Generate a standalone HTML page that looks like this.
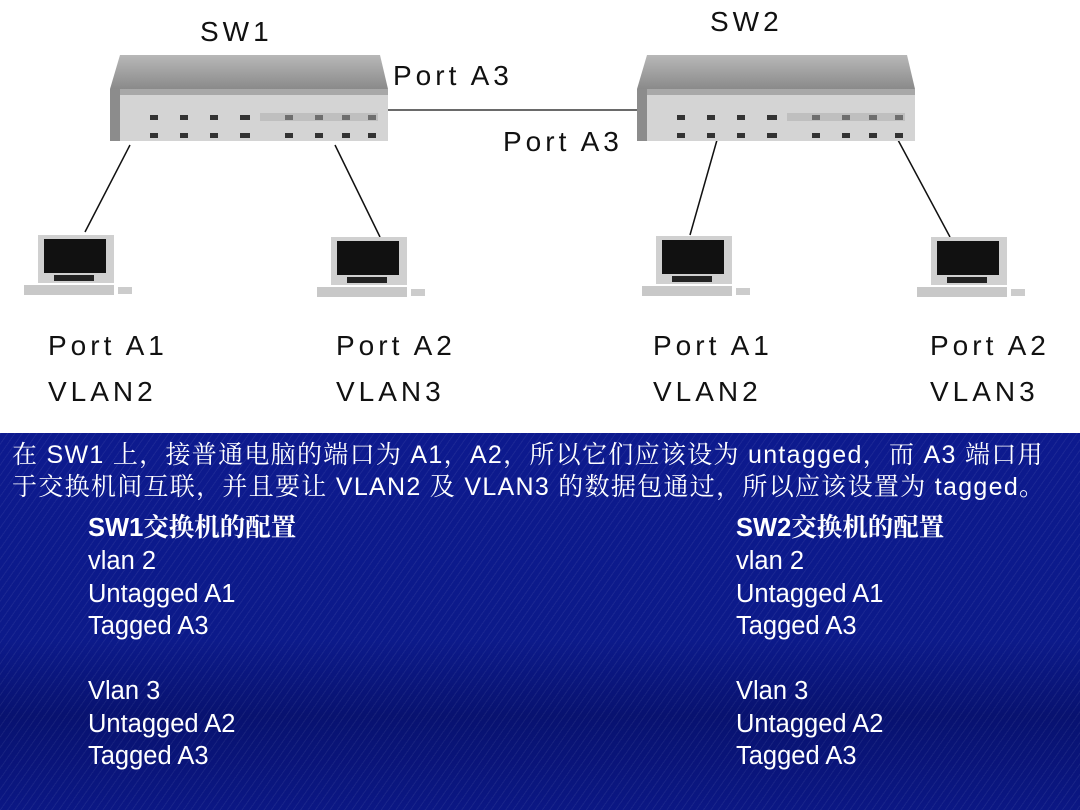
<!DOCTYPE html>
<html><head><meta charset="utf-8"><style>
*{margin:0;padding:0}
body{width:1080px;height:810px;overflow:hidden;position:relative;background:#fff;font-family:"Liberation Sans","Noto Sans CJK SC",sans-serif}
.t{position:absolute;font-size:28px;color:#111;letter-spacing:4px;line-height:1;white-space:nowrap}
.blue{position:absolute;left:0;top:433px;width:1080px;height:377px;background:linear-gradient(180deg,#0d1a8e 0%,#0c1a8a 55%,#081270 75%,#0b1784 100%);overflow:hidden}
.stripes{position:absolute;inset:0;background:repeating-linear-gradient(125deg,rgba(255,255,255,0.06) 0 1px,transparent 1px 6px)}
.w{position:absolute;color:#fff;white-space:nowrap;line-height:1}
.p{font-family:"Liberation Sans","Noto Serif CJK SC",serif;font-size:25px;letter-spacing:1.3px}
.c{font-size:25.5px}
</style></head><body>
<svg width="1080" height="433" style="position:absolute;left:0;top:0">
<defs>
<linearGradient id="lid" x1="0" y1="0" x2="0" y2="1"><stop offset="0" stop-color="#b8b8b8"/><stop offset="1" stop-color="#8a8a8a"/></linearGradient>
<g id="sw">
<polygon points="10,0 270,0 278,34 0,34" fill="url(#lid)"/>
<rect x="0" y="34" width="278" height="52" fill="#d4d4d4"/>
<rect x="0" y="34" width="278" height="6" fill="#a8a8a8"/>
<rect x="0" y="34" width="10" height="52" fill="#8c8c8c"/>
<g fill="#333">
<rect x="40" y="60" width="8" height="5"/><rect x="70" y="60" width="8" height="5"/><rect x="100" y="60" width="8" height="5"/><rect x="130" y="60" width="10" height="5"/><rect x="175" y="60" width="8" height="5"/><rect x="205" y="60" width="8" height="5"/><rect x="232" y="60" width="8" height="5"/><rect x="258" y="60" width="8" height="5"/>
<rect x="40" y="78" width="8" height="5"/><rect x="70" y="78" width="8" height="5"/><rect x="100" y="78" width="8" height="5"/><rect x="130" y="78" width="10" height="5"/><rect x="175" y="78" width="8" height="5"/><rect x="205" y="78" width="8" height="5"/><rect x="232" y="78" width="8" height="5"/><rect x="258" y="78" width="8" height="5"/>
</g>
<rect x="150" y="58" width="118" height="8" fill="#aaa" opacity=".5"/>
</g>
<g id="pc">
<rect x="18" y="0" width="76" height="48" fill="#d0d0d0"/>
<rect x="24" y="4" width="62" height="34" fill="#111"/>
<rect x="34" y="40" width="40" height="6" fill="#222"/>
<rect x="4" y="50" width="90" height="10" fill="#c8c8c8"/>
<rect x="98" y="52" width="14" height="7" fill="#ccc"/>
</g>
</defs>
<line x1="388" y1="110" x2="637" y2="110" stroke="#111" stroke-width="1.2"/>
<g stroke="#111" stroke-width="1.5">
<line x1="130" y1="145" x2="85" y2="232"/><line x1="335" y1="145" x2="380" y2="237"/>
<line x1="717" y1="140" x2="690" y2="235"/><line x1="898" y1="140" x2="950" y2="237"/>
</g>
<use href="#sw" x="110" y="55"/>
<use href="#sw" x="637" y="55"/>
<use href="#pc" x="20" y="235"/>
<use href="#pc" x="313" y="237"/>
<use href="#pc" x="638" y="236"/>
<use href="#pc" x="913" y="237"/>
</svg>
<div class="t" style="left:200px;top:18px">SW1</div>
<div class="t" style="left:710px;top:8px">SW2</div>
<div class="t" style="left:393px;top:62px">Port A3</div>
<div class="t" style="left:503px;top:128px">Port A3</div>
<div class="t" style="left:48px;top:332px">Port A1</div>
<div class="t" style="left:336px;top:332px">Port A2</div>
<div class="t" style="left:653px;top:332px">Port A1</div>
<div class="t" style="left:930px;top:332px">Port A2</div>
<div class="t" style="left:48px;top:378px">VLAN2</div>
<div class="t" style="left:336px;top:378px">VLAN3</div>
<div class="t" style="left:653px;top:378px">VLAN2</div>
<div class="t" style="left:930px;top:378px">VLAN3</div>
<div class="blue"><div class="stripes"></div></div>
<div class="w p" style="left:12px;top:443px">在 SW1 上，接普通电脑的端口为 A1，A2，所以它们应该设为 untagged，而 A3 端口用</div>
<div class="w p" style="left:12px;top:475px">于交换机间互联，并且要让 VLAN2 及 VLAN3 的数据包通过，所以应该设置为 tagged。</div>
<div class="w c" style="left:88px;top:516px;font-weight:bold;font-family:'Liberation Sans','Noto Serif CJK SC',serif">SW1交换机的配置</div>
<div class="w c" style="left:88px;top:545px;line-height:32.5px">vlan 2<br>Untagged A1<br>Tagged A3<br><br>Vlan 3<br>Untagged A2<br>Tagged A3</div>
<div class="w c" style="left:736px;top:516px;font-weight:bold;font-family:'Liberation Sans','Noto Serif CJK SC',serif">SW2交换机的配置</div>
<div class="w c" style="left:736px;top:545px;line-height:32.5px">vlan 2<br>Untagged A1<br>Tagged A3<br><br>Vlan 3<br>Untagged A2<br>Tagged A3</div>
</body></html>
